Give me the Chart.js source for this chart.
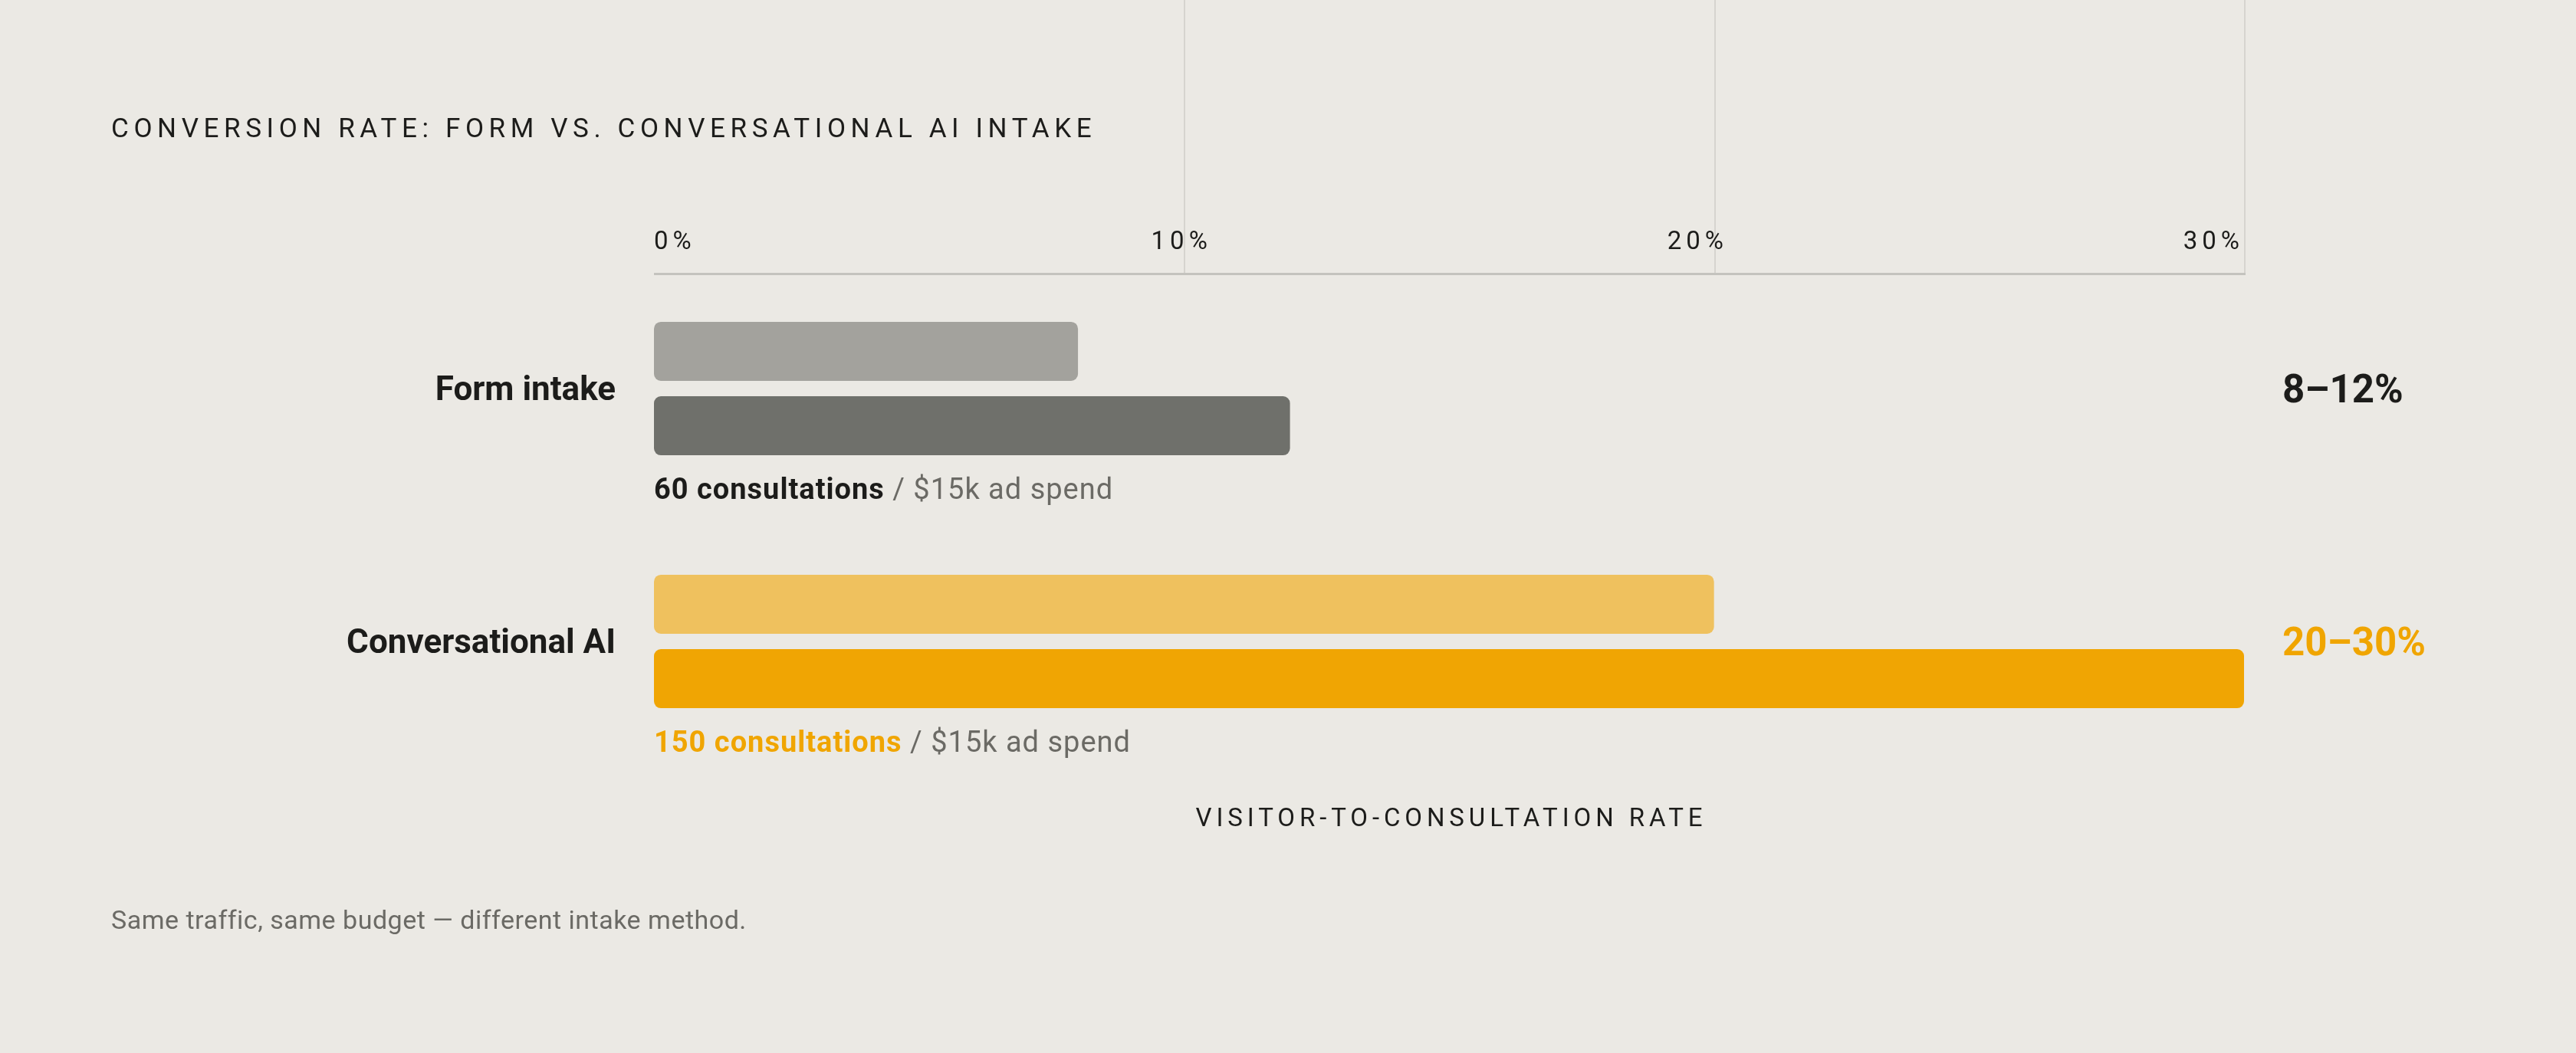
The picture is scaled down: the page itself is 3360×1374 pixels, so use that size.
<!DOCTYPE html>
<html>
<head>
<meta charset="utf-8">
<script src="https://cdn.jsdelivr.net/npm/chart.js@4.4.1/dist/chart.umd.min.js"></script>
<style>
  html, body { margin: 0; padding: 0; background: #ebe9e4; }
  canvas { display: block; }
</style>
</head>
<body>
<canvas id="chart" width="3360" height="1374"></canvas>
<script>
// data
var categories = ['Form intake', 'Conversational AI'];
var lowValues = [8, 20];
var highValues = [12, 30];
var rangeLabels = ['8–12%', '20–30%'];
var consultations = ['60 consultations', '150 consultations'];
var spendNote = ' / $15k ad spend';
var tickValues = [0, 10, 20, 30];
var chartTitle = 'CONVERSION RATE: FORM VS. CONVERSATIONAL AI INTAKE';
var axisTitle = 'VISITOR-TO-CONSULTATION RATE';
var footnote = 'Same traffic, same budget — different intake method.';

var FONT = 'Roboto, "Noto Sans", sans-serif';
var INK = '#1c1c1a', MUTED = '#6b6a65', AMBER = '#f0a500';

var overlay = {
  id: 'overlay',
  beforeDatasetsDraw: function(chart) {
    var ctx = chart.ctx, x = chart.scales.x;
    ctx.save();
    // grid lines sit above the axis, behind the tick labels
    ctx.strokeStyle = '#d6d4cf';
    ctx.lineWidth = 2;
    tickValues.forEach(function(v) {
      if (v === 0) return;
      var px = Math.round(x.getPixelForValue(v)) + 1;
      ctx.beginPath();
      ctx.moveTo(px, 0);
      ctx.lineTo(px, 357);
      ctx.stroke();
    });
    ctx.fillStyle = '#c4c3be';
    ctx.fillRect(x.left, 356, x.right - x.left + 2, 3);
    ctx.restore();
  },
  afterDatasetsDraw: function(chart) {
    var ctx = chart.ctx, x = chart.scales.x, y = chart.scales.y;
    ctx.save();
    ctx.textBaseline = 'alphabetic';

    // title
    ctx.fillStyle = INK;
    ctx.font = '400 35px ' + FONT;
    ctx.letterSpacing = '6.6px';
    ctx.textAlign = 'left';
    ctx.fillText(chartTitle, 145, 179);

    // tick labels, spread edge to edge
    ctx.font = '400 33px ' + FONT;
    ctx.letterSpacing = '6px';
    var labels = tickValues.map(function(v) { return v + '%'; });
    var widths = labels.map(function(t) { return ctx.measureText(t).width; });
    var total = widths.reduce(function(a, b) { return a + b; }, 0);
    var gap = (x.right - x.left - total) / (labels.length - 1);
    var cx = x.left;
    labels.forEach(function(t, i) {
      ctx.fillText(t, cx, 325);
      cx += widths[i] + gap;
    });

    // axis title
    ctx.letterSpacing = '5.9px';
    ctx.textAlign = 'center';
    ctx.fillText(axisTitle, (x.left + x.right) / 2 + 3, 1078);

    categories.forEach(function(cat, i) {
      var cy = y.getPixelForValue(i);
      var accent = i === 1 ? AMBER : INK;

      ctx.letterSpacing = '0px';
      ctx.textAlign = 'right';
      ctx.fillStyle = INK;
      ctx.font = '700 44px ' + FONT;
      ctx.fillText(cat, x.left - 50, cy + 15);

      ctx.textAlign = 'left';
      ctx.fillStyle = accent;
      ctx.font = '700 51px ' + FONT;
      ctx.fillText(rangeLabels[i], 2977, cy + 18);

      ctx.letterSpacing = '1px';
      ctx.font = '700 38px ' + FONT;
      ctx.fillStyle = accent;
      ctx.fillText(consultations[i], x.left, cy + 144);
      var w = ctx.measureText(consultations[i]).width;
      ctx.font = '400 38px ' + FONT;
      ctx.fillStyle = MUTED;
      ctx.fillText(spendNote, x.left + w, cy + 144);
    });

    // footnote
    ctx.letterSpacing = '0.5px';
    ctx.font = '400 34px ' + FONT;
    ctx.fillStyle = MUTED;
    ctx.textAlign = 'left';
    ctx.fillText(footnote, 145, 1212);
    ctx.restore();
  }
};

new Chart(document.getElementById('chart'), {
  type: 'bar',
  data: {
    labels: categories,
    datasets: [
      { label: 'Low', data: lowValues, backgroundColor: ['#a3a29d', '#efc15e'] },
      { label: 'High', data: highValues, backgroundColor: ['#6f706b', '#f0a503'] }
    ]
  },
  options: {
    indexAxis: 'y',
    responsive: false,
    animation: false,
    devicePixelRatio: 1,
    categoryPercentage: 0.588,
    barPercentage: 0.794,
    borderRadius: 9,
    borderSkipped: false,
    layout: { padding: { left: 853, right: 433, top: 342, bottom: 372 } },
    scales: {
      x: { display: false, min: 0, max: 30 },
      y: { display: false }
    },
    plugins: { legend: { display: false }, tooltip: { enabled: false } }
  },
  plugins: [overlay]
});
</script>
</body>
</html>
